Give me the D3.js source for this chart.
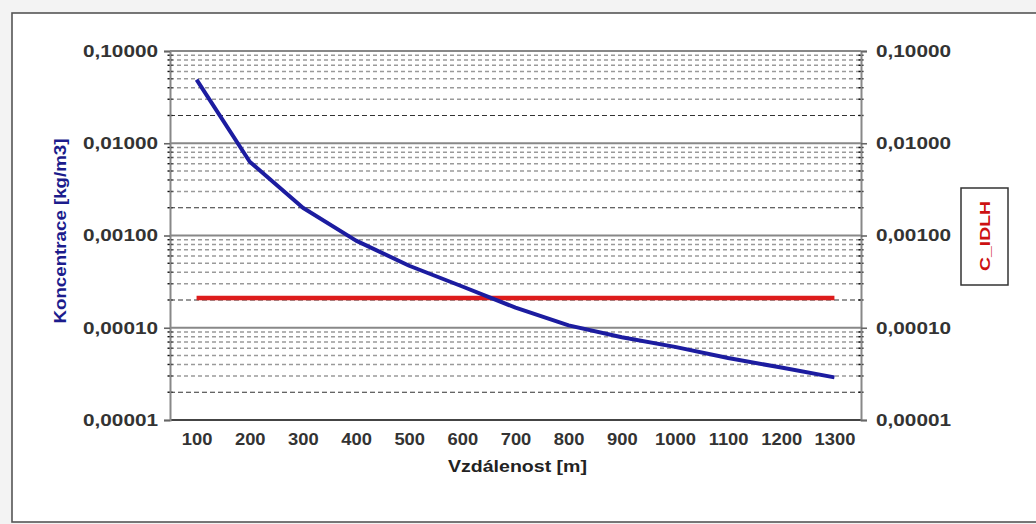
<!DOCTYPE html>
<html><head><meta charset="utf-8">
<script src="https://cdn.jsdelivr.net/npm/d3@7"></script>
<style>
html,body{margin:0;padding:0;background:#f3f3f3;}
svg{display:block;font-family:"Liberation Sans",Arial,sans-serif;}
</style></head>
<body>
<svg id="c" width="1036" height="524"></svg>
<script>
const categories = [100,200,300,400,500,600,700,800,900,1000,1100,1200,1300];
const koncentrace = [0.049,0.0063,0.0020,0.00088,0.00047,0.00028,0.000165,0.000106,0.000079,0.000062,0.000047,0.000037,0.000029];
const cIdlh = [0.00021,0.00021,0.00021,0.00021,0.00021,0.00021,0.00021,0.00021,0.00021,0.00021,0.00021,0.00021,0.00021];
const yMajorTicks = [0.00001,0.0001,0.001,0.01,0.1];
const yTitle = "Koncentrace [kg/m3]";
const xTitle = "Vzdálenost [m]";
const legendLabel = "C_IDLH";

const svg = d3.select("#c");
const L = 170, R = 861, T = 51, B = 420;

// outer frame
svg.append("rect").attr("x",12).attr("y",13).attr("width",1036).attr("height",509)
  .attr("fill","#fff").attr("stroke","#555").attr("stroke-width",1.6);

const x = d3.scalePoint().domain(categories).range([L,R]).padding(0.5);
const y = d3.scaleLog().domain([1e-5,0.1]).range([B,T]);

const loc = d3.formatLocale({decimal:",",thousands:" ",grouping:[3],currency:["",""]});
const fmt = loc.format(".5f");

const minors = [];
yMajorTicks.slice(0,-1).forEach(d=>{ for(let k=2;k<=9;k++) minors.push(d*k); });
const mant = d=>Math.round(d/Math.pow(10,Math.floor(Math.log10(d)+1e-9)));

const grid = svg.append("g");
grid.selectAll("line.minor").data(minors).enter().append("line")
  .attr("x1",L).attr("x2",R).attr("y1",d=>y(d)).attr("y2",d=>y(d))
  .attr("stroke",d=>mant(d)===2?"#333":"#9a9a9a")
  .attr("stroke-width",d=>mant(d)===2?1.1:1.4)
  .attr("stroke-dasharray",d=>mant(d)===2?"5,3":"4,3");
grid.selectAll("line.major").data(yMajorTicks).enter().append("line")
  .attr("x1",L).attr("x2",R).attr("y1",d=>y(d)).attr("y2",d=>y(d))
  .attr("stroke",d=>d===1e-5?"#444":"#888").attr("stroke-width",2);

[L,R].forEach(ax=>{
  svg.append("g").selectAll("line").data(minors).enter().append("line")
    .attr("x1",ax-2.5).attr("x2",ax+2.5).attr("y1",d=>y(d)).attr("y2",d=>y(d))
    .attr("stroke","#111").attr("stroke-width",1.4);
});

const gl = svg.append("g").attr("transform",`translate(${L},0)`)
  .call(d3.axisLeft(y).tickValues(yMajorTicks).tickFormat(fmt).tickSize(6).tickPadding(6));
const gr = svg.append("g").attr("transform",`translate(${R},0)`)
  .call(d3.axisRight(y).tickValues(yMajorTicks).tickFormat(fmt).tickSize(6).tickPadding(9));
[gl,gr].forEach(g=>{
  g.select(".domain").attr("stroke","#888").attr("stroke-width",2);
  g.selectAll(".tick line").attr("stroke","#666").attr("stroke-width",1.6);
  g.selectAll(".tick text").attr("font-size",17).attr("font-weight","bold").attr("fill","#333")
    .attr("font-family","Liberation Sans, Arial, sans-serif")
    .attr("textLength",75).attr("lengthAdjust","spacingAndGlyphs");
});

const gx = svg.append("g").attr("transform",`translate(0,${B})`)
  .call(d3.axisBottom(x).tickSize(0).tickPadding(13));
gx.select(".domain").remove();
gx.selectAll(".tick text").attr("font-size",17).attr("font-weight","bold").attr("fill","#333")
  .attr("font-family","Liberation Sans, Arial, sans-serif")
  .each(function(){ const w=this.getComputedTextLength(); d3.select(this).attr("textLength",w*1.08).attr("lengthAdjust","spacingAndGlyphs"); });

const line = d3.line().x((d,i)=>x(categories[i])).y(d=>y(d));
svg.append("path").datum(cIdlh).attr("d",line).attr("fill","none")
  .attr("stroke","#dd1c1c").attr("stroke-width",4.5);
svg.append("path").datum(koncentrace).attr("d",line).attr("fill","none")
  .attr("stroke","#1c1ca0").attr("stroke-width",4).attr("stroke-linejoin","round");

svg.append("text").attr("x",(L+R)/2+2).attr("y",472).attr("text-anchor","middle")
  .attr("font-size",17).attr("font-weight","bold").attr("fill","#222")
  .attr("textLength",139).attr("lengthAdjust","spacingAndGlyphs").text(xTitle);
svg.append("text").attr("transform","translate(66,231) rotate(-90)").attr("text-anchor","middle")
  .attr("font-size",17).attr("font-weight","bold").attr("fill","#1c1c8c")
  .attr("textLength",185).attr("lengthAdjust","spacingAndGlyphs").text(yTitle);

svg.append("rect").attr("x",961).attr("y",188).attr("width",47).attr("height",97)
  .attr("fill","#fff").attr("stroke","#333").attr("stroke-width",1.5);
svg.append("text").attr("transform","translate(990,236) rotate(-90)").attr("text-anchor","middle")
  .attr("font-size",15).attr("font-weight","bold").attr("fill","#cc1111")
  .attr("textLength",70).attr("lengthAdjust","spacingAndGlyphs").text(legendLabel);
</script>
</body></html>
